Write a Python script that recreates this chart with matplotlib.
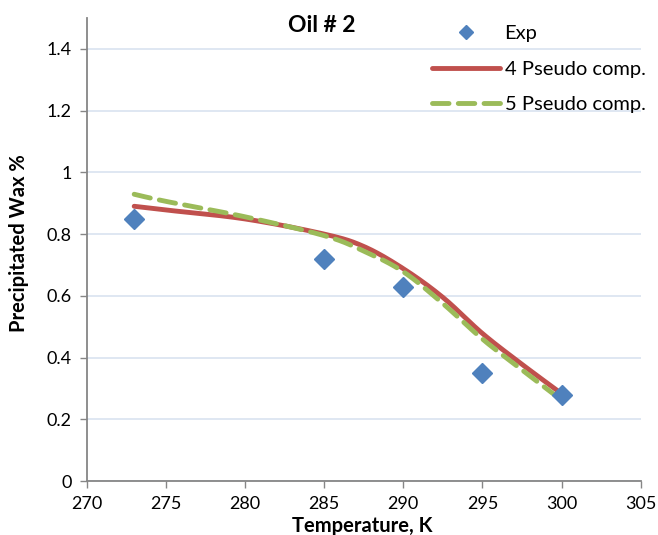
import numpy as np
import matplotlib.pyplot as plt

# ─── Data ───────────────────────────────────────────────────────────
exp_T   = [273, 285, 290, 295, 300]
exp_wax = [0.85, 0.72, 0.63, 0.35, 0.28]

model_T  = [273, 275, 280, 285, 287.5, 290, 292.5, 295, 297.5, 300]
pseudo4  = [0.890, 0.878, 0.849, 0.800, 0.760, 0.688, 0.595, 0.478, 0.378, 0.283]
pseudo5  = [0.929, 0.906, 0.856, 0.795, 0.745, 0.678, 0.575, 0.460, 0.360, 0.262]

x_ticks = [270, 275, 280, 285, 290, 295, 300, 305]
y_ticks = [0, 0.2, 0.4, 0.6, 0.8, 1.0, 1.2, 1.4]
y_labels = ["0", "0.2", "0.4", "0.6", "0.8", "1", "1.2", "1.4"]
# ────────────────────────────────────────────────────────────────────


def smooth(x, y, n=20):
    # Catmull-Rom curve through the points, like Excel's "smoothed line"
    x = np.asarray(x, float); y = np.asarray(y, float)
    px = np.r_[x[0], x, x[-1]]; py = np.r_[y[0], y, y[-1]]
    t = np.linspace(0, 1, n, endpoint=False)
    xs, ys = [], []
    for i in range(1, len(px) - 2):
        for p, out in ((px, xs), (py, ys)):
            p0, p1, p2, p3 = p[i - 1], p[i], p[i + 1], p[i + 2]
            out.extend(0.5 * (2 * p1 + (-p0 + p2) * t
                              + (2 * p0 - 5 * p1 + 4 * p2 - p3) * t ** 2
                              + (-p0 + 3 * p1 - 3 * p2 + p3) * t ** 3))
    xs.append(x[-1]); ys.append(y[-1])
    return xs, ys


plt.rcParams['font.family'] = ['Lato', 'DejaVu Sans']

W, H = 658, 535
fig = plt.figure(figsize=(W / 100, H / 100), dpi=100)
ax = fig.add_axes([86.7 / W, 1 - 481 / H, (640.7 - 86.7) / W, (481 - 18) / H])

blue, red, green = '#4F81BD', '#C0504D', '#9BBB59'
axis_grey = '#868686'

ax.plot(*smooth(model_T, pseudo4), color=red, lw=3.5, solid_capstyle='round',
        label='4 Pseudo comp.', zorder=3)
ax.plot(*smooth(model_T, pseudo5), color=green, lw=3.5, dashes=(3.4, 1.9),
        dash_capstyle='round', label='5 Pseudo comp.', zorder=4)
ax.plot(exp_T, exp_wax, ls='none', marker='D', ms=10, color=blue,
        mec=blue, label='Exp', zorder=5)

ax.set_xlim(270, 305)
ax.set_ylim(0, 1.5)
ax.set_xticks(x_ticks)
ax.set_yticks(y_ticks)
ax.set_yticklabels(y_labels)
ax.tick_params(labelsize=13, colors='black', length=5, color=axis_grey,
               direction='out', width=1)
ax.tick_params(axis='x', pad=6)
ax.tick_params(axis='y', pad=6)

ax.grid(axis='y', color='#D9E3F0', lw=1.2)
ax.set_axisbelow(True)
for s in ['top', 'right']:
    ax.spines[s].set_visible(False)
for s in ['left', 'bottom']:
    ax.spines[s].set_color(axis_grey)
    ax.spines[s].set_linewidth(1.3)

fig.text(322 / W, 1 - 26 / H, 'Oil # 2', ha='center', va='center',
         fontsize=16.5, fontweight='bold')
fig.text(362 / W, 1 - 526 / H, 'Temperature, K', ha='center', va='center',
         fontsize=14.5, fontweight='bold')
fig.text(19 / W, 1 - 243 / H, 'Precipitated Wax %', ha='center', va='center',
         rotation=90, fontsize=14.5, fontweight='bold')

h, l = ax.get_legend_handles_labels()
order = [2, 0, 1]
leg = fig.legend([h[i] for i in order], [l[i] for i in order],
                 loc='upper left', bbox_to_anchor=(422 / W, 1 - 15 / H),
                 frameon=False, fontsize=14.5, handlelength=3.35,
                 handletextpad=0.25, labelspacing=0.92, borderpad=0,
                 numpoints=1, markerscale=0.75)

fig.savefig('out.png', dpi=100)
